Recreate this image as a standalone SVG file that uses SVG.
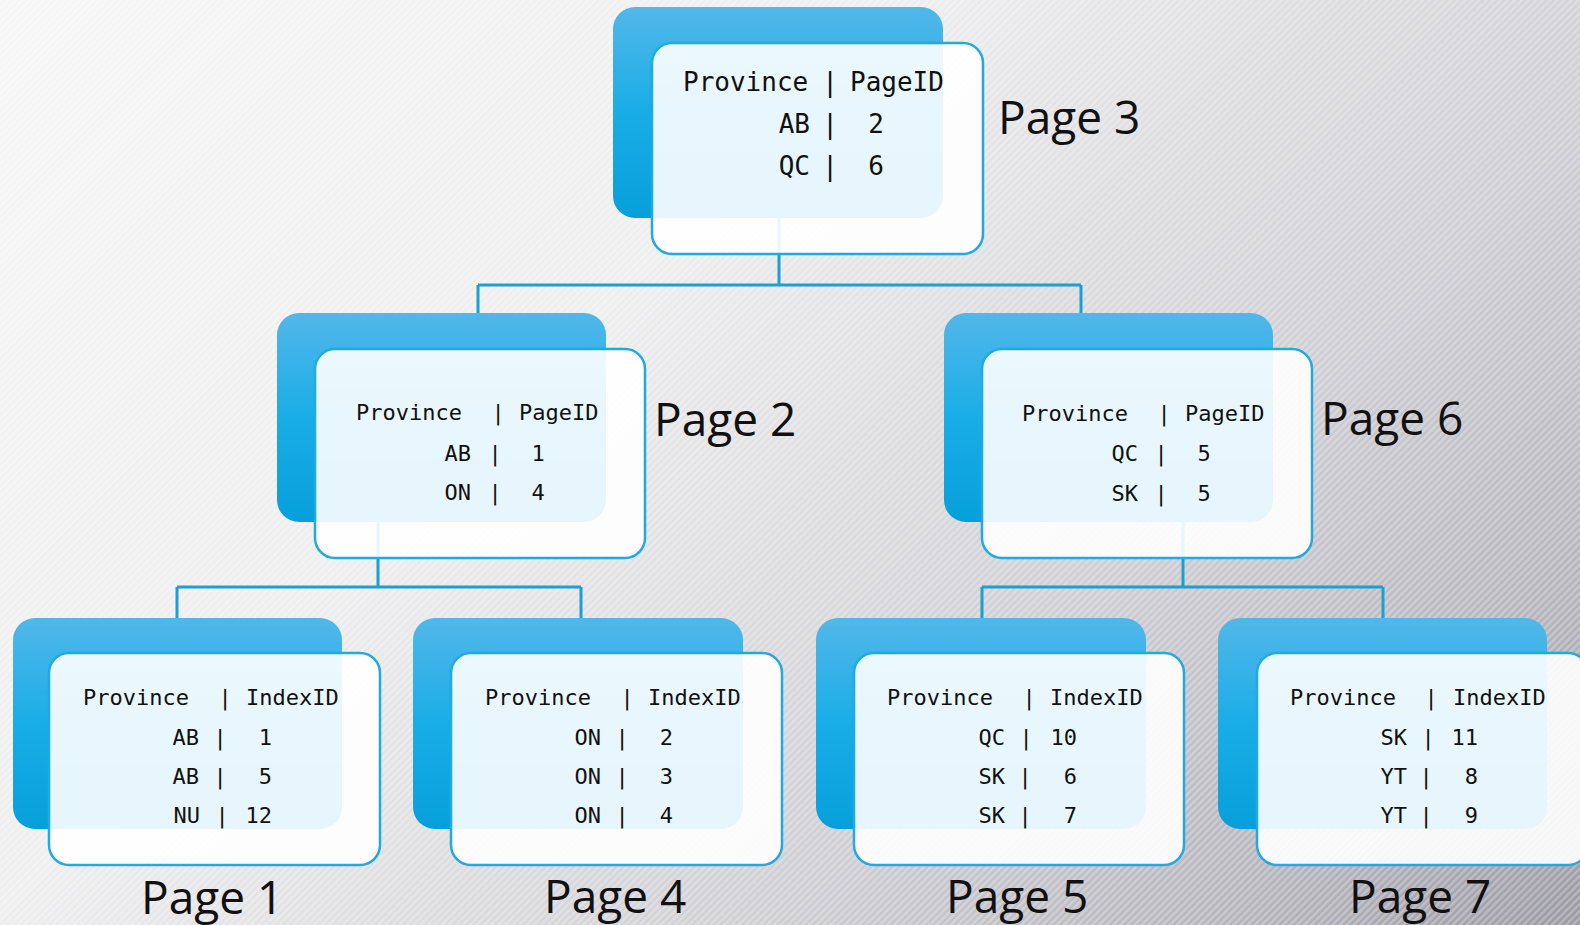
<svg xmlns="http://www.w3.org/2000/svg" width="1580" height="925" viewBox="0 0 1580 925">
  <defs>
    <!-- diagonal backdrop shading, light at upper left, grey at lower right -->
    <linearGradient id="bgGrad" gradientUnits="userSpaceOnUse" x1="0" y1="0" x2="1252" y2="1252">
      <stop offset="0" stop-color="#f6f6f6"/>
      <stop offset="0.36" stop-color="#eeeeef"/>
      <stop offset="0.56" stop-color="#d9d9dd"/>
      <stop offset="0.66" stop-color="#cfcfd4"/>
      <stop offset="0.87" stop-color="#b3b2ba"/>
      <stop offset="1" stop-color="#9a99a3"/>
    </linearGradient>
    <!-- fine diagonal texture -->
    <pattern id="stripes" width="5" height="5" patternUnits="userSpaceOnUse" patternTransform="rotate(45)">
      <rect width="2.5" height="5" fill="#ffffff" fill-opacity="0.28"/>
    </pattern>
    <!-- blue tab behind each card -->
    <linearGradient id="backGrad" x1="0" y1="0" x2="0" y2="1">
      <stop offset="0" stop-color="#52b7e9"/>
      <stop offset="0.5" stop-color="#19ade7"/>
      <stop offset="1" stop-color="#079fdb"/>
    </linearGradient>
  </defs>
  <style>
    .back { fill: url(#backGrad); }
    .card { fill: #ffffff; fill-opacity: 0.9; stroke: #22a9de; stroke-width: 2.5; }
    .conn { fill: none; stroke: #1c9fd2; stroke-width: 3; }
    .mono { font-family: "DejaVu Sans Mono", "Liberation Mono", monospace; fill: #111111; }
    .lg { font-size: 26px; }
    .sm { font-size: 22px; }
    .e { text-anchor: end; }
    .m { text-anchor: middle; }
    .label { font-family: "Open Sans", "Noto Sans", sans-serif; font-size: 46px; fill: #111111; }
  </style>

  <rect width="1580" height="925" fill="url(#bgGrad)"/>
  <rect width="1580" height="925" fill="url(#stripes)"/>

  <g id="connectors">
    <path class="conn" d="M779 218 V285 M478 285 H1081 M478 285 V313 M1081 285 V313"/>
    <path class="conn" d="M378 522 V587 M177 587 H581 M177 587 V618 M581 587 V618"/>
    <path class="conn" d="M1183 522 V587 M982 587 H1383 M982 587 V618 M1383 587 V618"/>
  </g>

  <!-- root page -->
  <g id="page3">
    <rect class="back" x="613" y="7" width="330" height="211" rx="22"/>
    <rect class="card" x="652" y="43" width="331" height="211" rx="20"/>
    <g class="mono lg">
      <text x="683" y="91">Province</text>
      <text class="m" x="830" y="91">|</text>
      <text x="850" y="91">PageID</text>
      <text class="e" x="810" y="133">AB</text>
      <text class="m" x="830" y="133">|</text>
      <text class="m" x="876" y="133">2</text>
      <text class="e" x="810" y="175">QC</text>
      <text class="m" x="830" y="175">|</text>
      <text class="m" x="876" y="175">6</text>
    </g>
    <text class="label" x="998" y="134">Page 3</text>
  </g>

  <!-- intermediate pages -->
  <g id="page2">
    <rect class="back" x="277" y="313" width="329" height="209" rx="22"/>
    <rect class="card" x="315" y="349" width="330" height="209" rx="20"/>
    <g class="mono sm">
      <text x="356" y="420">Province</text>
      <text class="m" x="498" y="420">|</text>
      <text x="519" y="420">PageID</text>
      <text class="e" x="471" y="461">AB</text>
      <text class="m" x="495" y="461">|</text>
      <text class="m" x="538" y="461">1</text>
      <text class="e" x="471" y="500">ON</text>
      <text class="m" x="495" y="500">|</text>
      <text class="m" x="538" y="500">4</text>
    </g>
    <text class="label" x="654" y="436">Page 2</text>
  </g>

  <g id="page6">
    <rect class="back" x="944" y="313" width="329" height="209" rx="22"/>
    <rect class="card" x="982" y="349" width="330" height="209" rx="20"/>
    <g class="mono sm">
      <text x="1022" y="421">Province</text>
      <text class="m" x="1164" y="421">|</text>
      <text x="1185" y="421">PageID</text>
      <text class="e" x="1138" y="461">QC</text>
      <text class="m" x="1161" y="461">|</text>
      <text class="m" x="1204" y="461">5</text>
      <text class="e" x="1138" y="501">SK</text>
      <text class="m" x="1161" y="501">|</text>
      <text class="m" x="1204" y="501">5</text>
    </g>
    <text class="label" x="1321" y="435">Page 6</text>
  </g>

  <!-- leaf pages -->
  <g id="page1">
    <rect class="back" x="13" y="618" width="329" height="211" rx="22"/>
    <rect class="card" x="49" y="653" width="331" height="212" rx="20"/>
    <g class="mono sm">
      <text x="83" y="705">Province</text>
      <text class="m" x="225" y="705">|</text>
      <text x="246" y="705">IndexID</text>
      <text class="e" x="199" y="745">AB</text>
      <text class="m" x="220" y="745">|</text>
      <text class="e" x="272" y="745">1</text>
      <text class="e" x="199" y="784">AB</text>
      <text class="m" x="220" y="784">|</text>
      <text class="e" x="272" y="784">5</text>
      <text class="e" x="200" y="823">NU</text>
      <text class="m" x="222" y="823">|</text>
      <text class="e" x="272" y="823">12</text>
    </g>
    <text class="label" x="141" y="914">Page 1</text>
  </g>

  <g id="page4">
    <rect class="back" x="413" y="618" width="330" height="211" rx="22"/>
    <rect class="card" x="451" y="653" width="331" height="212" rx="20"/>
    <g class="mono sm">
      <text x="485" y="705">Province</text>
      <text class="m" x="627" y="705">|</text>
      <text x="648" y="705">IndexID</text>
      <text class="e" x="601" y="745">ON</text>
      <text class="m" x="622" y="745">|</text>
      <text class="e" x="673" y="745">2</text>
      <text class="e" x="601" y="784">ON</text>
      <text class="m" x="622" y="784">|</text>
      <text class="e" x="673" y="784">3</text>
      <text class="e" x="601" y="823">ON</text>
      <text class="m" x="622" y="823">|</text>
      <text class="e" x="673" y="823">4</text>
    </g>
    <text class="label" x="544" y="913">Page 4</text>
  </g>

  <g id="page5">
    <rect class="back" x="816" y="618" width="330" height="211" rx="22"/>
    <rect class="card" x="854" y="653" width="330" height="212" rx="20"/>
    <g class="mono sm">
      <text x="887" y="705">Province</text>
      <text class="m" x="1029" y="705">|</text>
      <text x="1050" y="705">IndexID</text>
      <text class="e" x="1005" y="745">QC</text>
      <text class="m" x="1026" y="745">|</text>
      <text class="e" x="1077" y="745">10</text>
      <text class="e" x="1005" y="784">SK</text>
      <text class="m" x="1025" y="784">|</text>
      <text class="e" x="1077" y="784">6</text>
      <text class="e" x="1005" y="823">SK</text>
      <text class="m" x="1025" y="823">|</text>
      <text class="e" x="1077" y="823">7</text>
    </g>
    <text class="label" x="946" y="913">Page 5</text>
  </g>

  <g id="page7">
    <rect class="back" x="1218" y="618" width="329" height="211" rx="22"/>
    <rect class="card" x="1257" y="653" width="331" height="212" rx="20"/>
    <g class="mono sm">
      <text x="1290" y="705">Province</text>
      <text class="m" x="1431" y="705">|</text>
      <text x="1453" y="705">IndexID</text>
      <text class="e" x="1407" y="745">SK</text>
      <text class="m" x="1428" y="745">|</text>
      <text class="e" x="1478" y="745">11</text>
      <text class="e" x="1407" y="784">YT</text>
      <text class="m" x="1426" y="784">|</text>
      <text class="e" x="1478" y="784">8</text>
      <text class="e" x="1407" y="823">YT</text>
      <text class="m" x="1426" y="823">|</text>
      <text class="e" x="1478" y="823">9</text>
    </g>
    <text class="label" x="1349" y="913">Page 7</text>
  </g>
</svg>
